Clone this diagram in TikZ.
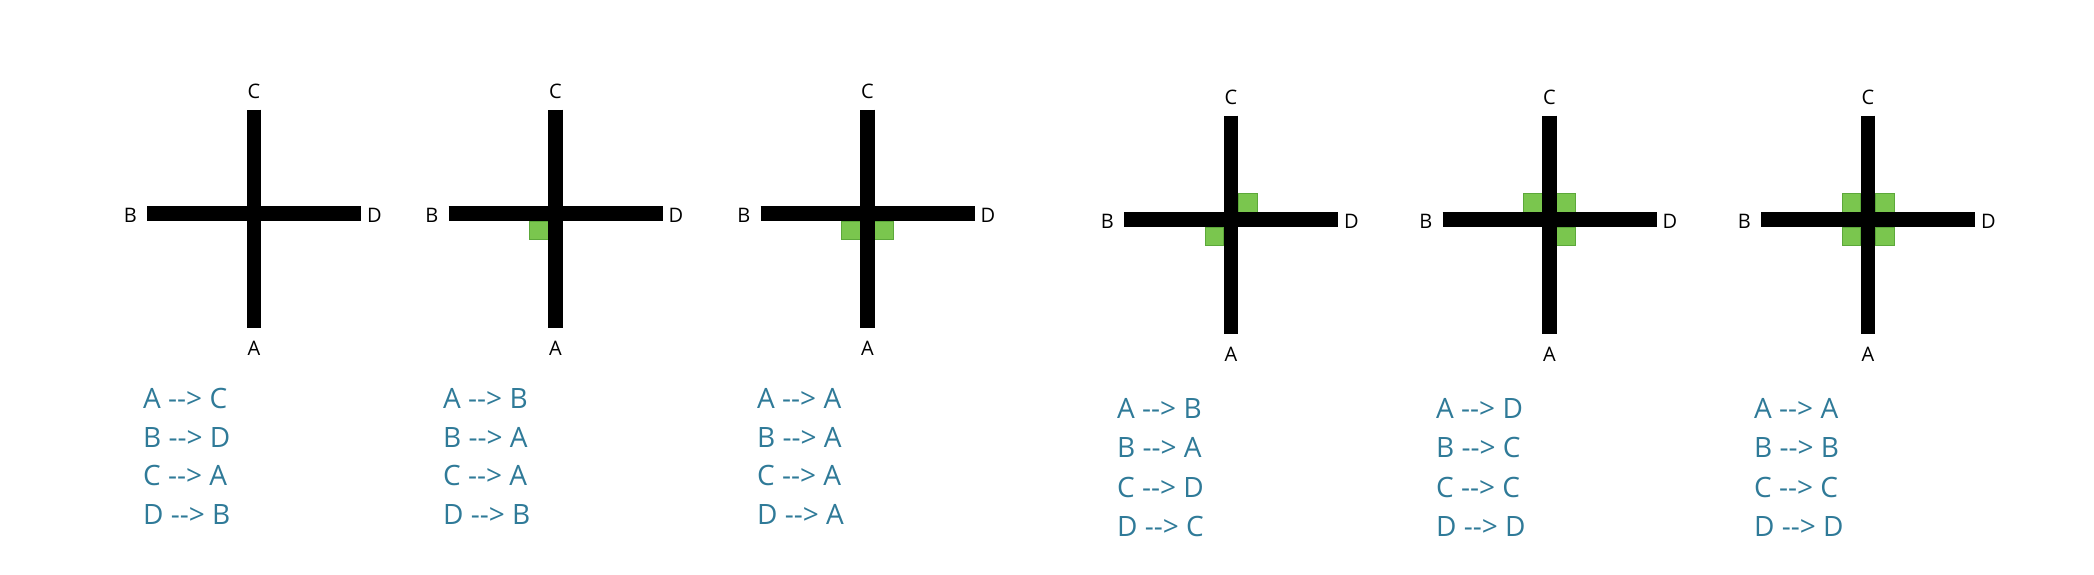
\documentclass[tikz,border=0pt]{standalone}
\usepackage{fontspec}
\setmainfont{Open Sans}
\usetikzlibrary{positioning}

\definecolor{maptext}{RGB}{47,122,152}
\definecolor{turnfill}{RGB}{122,198,78}
\definecolor{turnedge}{RGB}{92,168,58}
\newcommand{\gives}{-{}->}

\begin{document}
\begin{tikzpicture}[x=1pt, y=-1pt,
    arm/.style={line width=14.5pt},
    turn/.style={fill=turnfill, draw=turnedge, line width=0.8pt},
    leg/.style={font=\fontsize{20}{24}\selectfont, inner sep=0pt},
    maprow/.style={font=\fontsize{28}{34}\selectfont, text=maptext, inner sep=0pt, anchor=base west}]

    \useasboundingbox (0,0) rectangle (2094,575);

    % -------------------------------------------------------------
    % CENTRES OF THE SIX CROSSINGS
    % -------------------------------------------------------------
    \foreach \n/\cx/\cy in {1/254/213.7, 2/555.5/213.7, 3/867.5/213.7,
                            4/1231/219.7, 5/1549.5/219.7, 6/1868/219.7}
        \coordinate (x\n) at (\cx,\cy);

    % -------------------------------------------------------------
    % GREEN SQUARES (quadrant x, quadrant y)
    % -------------------------------------------------------------
    \foreach \n/\sx/\sy in {2/-1/1,
                            3/-1/1, 3/1/1,
                            4/1/-1, 4/-1/1,
                            5/-1/-1, 5/1/-1, 5/1/1,
                            6/-1/-1, 6/1/-1, 6/-1/1, 6/1/1}
        \path[turn, shift={(x\n)}] (\sx*7.25,\sy*7.25) rectangle (\sx*26,\sy*26);

    % -------------------------------------------------------------
    % CROSSINGS AND THEIR ENDS
    % -------------------------------------------------------------
    \foreach \n in {1,...,6} {
        \draw[arm] ([xshift=-107pt]x\n) -- ([xshift=107pt]x\n);
        \draw[arm] ([yshift=104pt]x\n) -- ([yshift=-114pt]x\n);
        \node[leg, anchor=base] (c\n) at ([yshift=115pt]x\n) {C};
        \node[leg, anchor=base] (a\n) at ([yshift=-141.5pt]x\n) {A};
        \node[leg, anchor=base east] (b\n) at ([xshift=-117pt, yshift=-8.6pt]x\n) {B};
        \node[leg, anchor=base west] (d\n) at ([xshift=113pt, yshift=-8.6pt]x\n) {D};
    }

    % -------------------------------------------------------------
    % MAPPINGS BELOW EACH CROSSING
    % -------------------------------------------------------------
    \foreach \n/\lx/\ly/\dy/\rows in {
        1/143/408.3/38.7/{A \gives{} C, B \gives{} D, C \gives{} A, D \gives{} B},
        2/443/408.3/38.7/{A \gives{} B, B \gives{} A, C \gives{} A, D \gives{} B},
        3/757/408.3/38.7/{A \gives{} A, B \gives{} A, C \gives{} A, D \gives{} A},
        4/1117/418.3/39.4/{A \gives{} B, B \gives{} A, C \gives{} D, D \gives{} C},
        5/1436/418.3/39.4/{A \gives{} D, B \gives{} C, C \gives{} C, D \gives{} D},
        6/1754/418.3/39.4/{A \gives{} A, B \gives{} B, C \gives{} C, D \gives{} D}}
        \foreach \t [count=\k] in \rows
            \node[maprow] (m\n-\k) at (\lx, \ly+\k*\dy-\dy) {\t};

\end{tikzpicture}
\end{document}
